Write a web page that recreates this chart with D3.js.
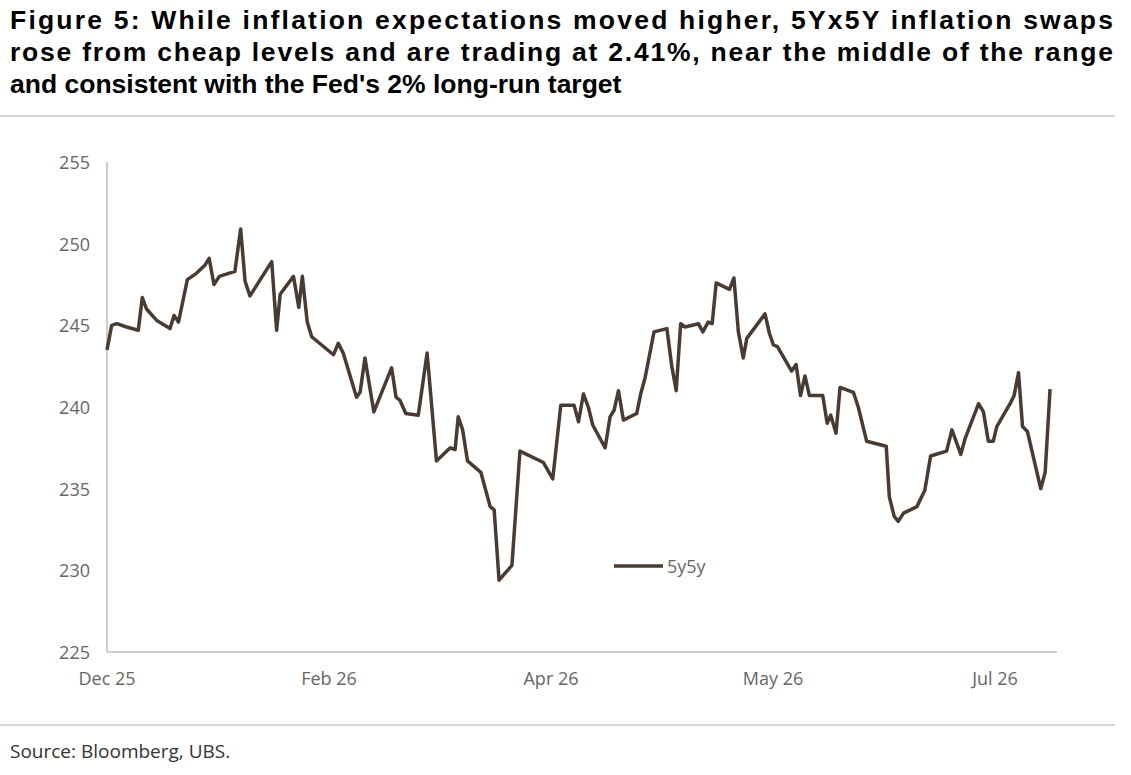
<!DOCTYPE html>
<html><head><meta charset="utf-8">
<script src="https://cdn.jsdelivr.net/npm/d3@7"></script>
<style>body{margin:0;background:#fff}</style></head>
<body><svg id="c" width="1131" height="775"></svg>
<script>
const titleLines = ["Figure 5: While inflation expectations moved higher, 5Yx5Y inflation swaps",
  "rose from cheap levels and are trading at 2.41%, near the middle of the range",
  "and consistent with the Fed's 2% long-run target"];
const source = "Source: Bloomberg, UBS.";
const seriesName = "5y5y";
// x = trading-day index from start of chart
const dayIdx = [0,1.05,2.2,4.4,7.05,7.95,8.9,11.2,14.2,15.1,16.1,18.1,20.2,22.1,23,24.1,25.3,28.8,30.1,31.1,32.2,37.1,38.2,39,42,43.2,44,45.1,46.1,51,52.1,53.2,56.2,57,58.1,60.1,64.1,65.1,66,67.3,70.1,72.1,74.2,77.3,78.4,79.1,80.1,81.2,84.2,86.3,87.2,88.3,91.2,93,98.3,100.4,102.2,105.2,106.2,107.3,108.4,109.4,112.2,113.3,114.2,115.2,116.3,119.3,120.2,121.2,123.2,126.1,127.2,128.2,129.2,130.2,133.2,134.2,135.4,136.3,137.2,140.2,141.2,142.2,143.3,144.1,148.2,149.2,150.1,151,154.2,155.2,156.2,157.2,158.2,161.2,162.2,163,164.2,165.1,168.1,169.2,171.1,175.5,176.2,177.3,178.2,179.4,182.4,184.2,185.5,189.1,190.3,192.3,193.3,196.3,197.4,198.5,199.6,200.4,203.4,204.3,205.3,206.2,207.3,210.3,211.3,212.4];
const values = [243.5,245.0,245.1,244.9,244.7,246.7,246.0,245.3,244.8,245.6,245.2,247.8,248.2,248.7,249.1,247.5,248.0,248.3,250.9,247.7,246.8,248.9,244.7,246.9,248.0,246.1,248.0,245.2,244.3,243.2,243.9,243.3,240.6,240.9,243.0,239.7,242.4,240.6,240.4,239.6,239.5,243.3,236.7,237.5,237.4,239.4,238.6,236.7,236.0,233.9,233.7,229.4,230.3,237.3,236.6,235.6,240.1,240.1,239.1,240.8,240.0,238.9,237.5,239.4,239.8,241.0,239.2,239.6,240.8,241.8,244.6,244.8,242.5,241.0,245.1,244.9,245.1,244.6,245.2,245.1,247.6,247.2,247.9,244.6,243.0,244.2,245.7,244.5,243.8,243.7,242.2,242.6,240.7,241.9,240.7,240.7,239.0,239.5,238.4,241.2,240.9,240.0,237.9,237.6,234.5,233.3,233.0,233.5,233.9,234.9,237.0,237.3,238.6,237.1,238.1,240.2,239.7,237.9,237.9,238.8,240.2,240.7,242.1,238.8,238.5,235.0,236.0,241.1];
const xTickIdx = [0,50,100,150,200];
const xTickLabels = ["Dec 25","Feb 26","Apr 26","May 26","Jul 26"];
const yTicks = [225,230,235,240,245,250,255];

const svg = d3.select("#c");
const font = "'Open Sans', 'Liberation Sans', sans-serif";
svg.selectAll("text.t").data(titleLines).enter().append("text")
  .attr("x",10).attr("y",(d,i)=>29+i*32).attr("font-family","'Liberation Sans', Arial, sans-serif")
  .attr("font-weight","bold").attr("font-size",26.5).attr("fill","#000")
  .each(function(d,i){ if(i<2) d3.select(this).attr("textLength",1103).attr("lengthAdjust","spacing"); })
  .text(d=>d);
svg.append("line").attr("x1",0).attr("x2",1115).attr("y1",116).attr("y2",116).attr("stroke","#c8c8c8").attr("stroke-width",1.5);
svg.append("line").attr("x1",0).attr("x2",1115).attr("y1",725).attr("y2",725).attr("stroke","#c8c8c8").attr("stroke-width",1.5);
svg.append("text").attr("x",10).attr("y",758).attr("font-family",font).attr("font-size",19).attr("fill","#333").text(source);

const x = d3.scaleLinear().domain([0,200]).range([107,995]);
const y = d3.scaleLinear().domain([225,255]).range([652,162]);

svg.append("line").attr("x1",107).attr("x2",107).attr("y1",162).attr("y2",652).attr("stroke","#bdbdbd").attr("stroke-width",1.5);
svg.append("line").attr("x1",107).attr("x2",1057).attr("y1",652).attr("y2",652).attr("stroke","#bdbdbd").attr("stroke-width",1.5);

svg.selectAll("text.y").data(yTicks).enter().append("text")
  .attr("x",90).attr("y",d=>y(d)+7).attr("text-anchor","end").attr("font-family",font)
  .attr("font-size",18).attr("fill","#666").text(d=>d);
svg.selectAll("text.x").data(xTickIdx).enter().append("text")
  .attr("x",d=>x(d)).attr("y",685).attr("text-anchor","middle").attr("font-family",font)
  .attr("font-size",18).attr("fill","#666").text((d,i)=>xTickLabels[i]);

const data = dayIdx.map((d,i)=>[d,values[i]]);
svg.append("path").datum(data).attr("fill","none").attr("stroke","#4a3b32").attr("stroke-width",3.5)
  .attr("stroke-linejoin","round")
  .attr("d",d3.line().x(d=>x(d[0])).y(d=>y(d[1])));

svg.append("line").attr("x1",614).attr("x2",663).attr("y1",566).attr("y2",566).attr("stroke","#4a3b32").attr("stroke-width",3.5);
svg.append("text").attr("x",667).attr("y",573).attr("font-family",font).attr("font-size",18).attr("fill","#666").text(seriesName);
</script></body></html>
